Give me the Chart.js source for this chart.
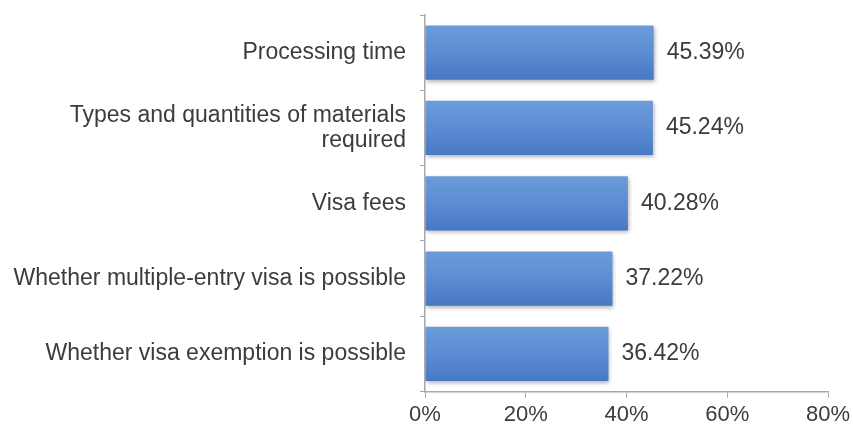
<!DOCTYPE html>
<html>
<head>
<meta charset="utf-8">
<script src="https://cdn.jsdelivr.net/npm/chart.js@4"></script>
<style>
  html, body { margin: 0; padding: 0; background: #fff; }
  #wrap { width: 853px; height: 432px; }
</style>
</head>
<body>
<div id="wrap"><canvas id="chart"></canvas></div>
<script>
const categories = [
    'Processing time',
    ['Types and quantities of materials', 'required'],
    'Visa fees',
    'Whether multiple-entry visa is possible',
    'Whether visa exemption is possible'
];
const shares = [45.39, 45.24, 40.28, 37.22, 36.42];
const xTicks = [0, 20, 40, 60, 80];

const textColor = '#3c3c3c';
const axisColor = '#a8a8a8';
const fontFamily = '"Liberation Sans", Arial, sans-serif';
const barPct = 0.72;

// gradient for each bar, light on top, darker at the bottom
function barFill(ctx) {
    const chart = ctx.chart;
    const y = chart.scales.y;
    if (!y || ctx.dataIndex === undefined) return '#5b8bd0';
    const mid = y.getPixelForValue(ctx.dataIndex);
    const half = (y.height / categories.length) * barPct / 2;
    if (!isFinite(mid) || !isFinite(half) || half <= 0) return '#5b8bd0';
    const g = chart.ctx.createLinearGradient(0, mid - half, 0, mid + half);
    g.addColorStop(0, '#6b9bd9');
    g.addColorStop(0.5, '#5c8dd3');
    g.addColorStop(1, '#4877c5');
    return g;
}

// soft shadow under the bars
const shadowPlugin = {
    id: 'shadow',
    beforeDatasetsDraw(chart) {
        const c = chart.ctx;
        c.save();
        c.shadowColor = 'rgba(0,0,0,0.3)';
        c.shadowBlur = 4;
        c.shadowOffsetX = 1;
        c.shadowOffsetY = 2;
    },
    afterDatasetsDraw(chart) {
        chart.ctx.restore();
    }
};

// value labels right of the bars
const valueLabels = {
    id: 'valueLabels',
    afterDatasetsDraw(chart) {
        const c = chart.ctx;
        const meta = chart.getDatasetMeta(0);
        c.save();
        c.font = '23px ' + fontFamily;
        c.fillStyle = textColor;
        c.textAlign = 'left';
        c.textBaseline = 'middle';
        meta.data.forEach((bar, i) => {
            c.fillText(shares[i].toFixed(2) + '%', bar.x + 13, bar.y);
        });
        c.restore();
    }
};

new Chart(document.getElementById('chart'), {
    type: 'bar',
    data: {
        labels: categories,
        datasets: [{
            data: shares,
            backgroundColor: barFill,
            borderWidth: 0,
            barPercentage: barPct,
            categoryPercentage: 1
        }]
    },
    options: {
        indexAxis: 'y',
        responsive: true,
        maintainAspectRatio: false,
        animation: false,
        layout: { padding: { top: 15, right: 25, bottom: 0, left: 0 } },
        plugins: {
            legend: { display: false },
            tooltip: { enabled: false }
        },
        scales: {
            x: {
                min: 0,
                max: 80,
                afterBuildTicks: axis => { axis.ticks = xTicks.map(v => ({ value: v })); },
                afterFit: scale => { scale.paddingRight = 0; },
                grid: { drawOnChartArea: false, tickLength: 6, color: axisColor },
                border: { color: axisColor, width: 1.5 },
                ticks: {
                    color: textColor,
                    padding: 4,
                    font: { family: fontFamily, size: 22 },
                    callback: v => v + '%'
                }
            },
            y: {
                // labels are long, give the axis the room the original has
                afterFit: scale => {
                    scale.width = 425;
                    scale.paddingTop = 0;
                    scale.paddingBottom = 0;
                },
                grid: { drawOnChartArea: false, tickLength: 5, color: axisColor, offset: true },
                border: { color: axisColor, width: 1.5 },
                ticks: {
                    color: textColor,
                    padding: 14,
                    font: { family: fontFamily, size: 23, lineHeight: 1.1 }
                }
            }
        }
    },
    plugins: [shadowPlugin, valueLabels]
});
</script>
</body>
</html>
